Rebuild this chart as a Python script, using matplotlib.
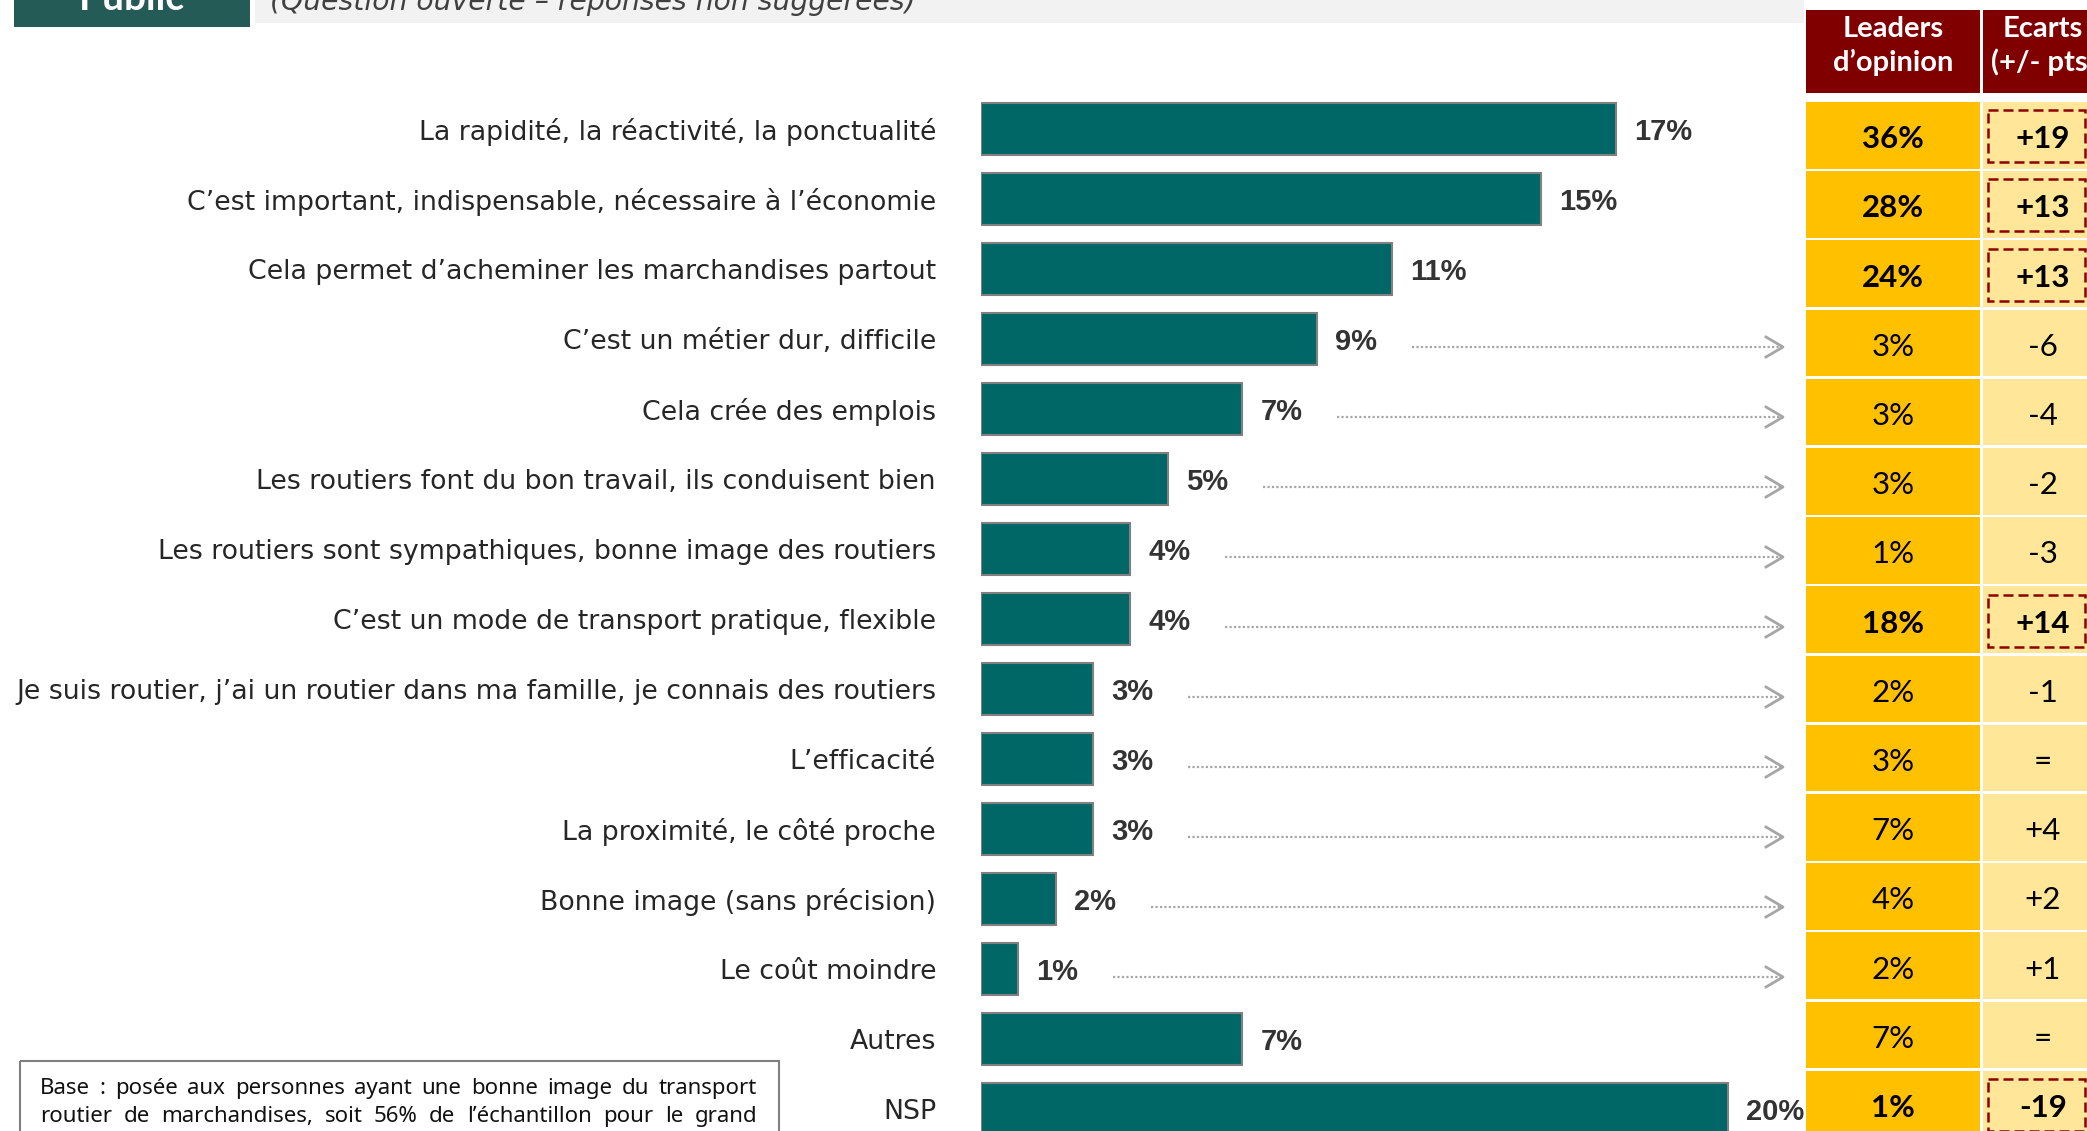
import matplotlib
matplotlib.use('Agg')
import matplotlib.pyplot as plt
from matplotlib.patches import Rectangle

plt.rcParams['font.family'] = ['DejaVu Sans']
BOLD_FONT = ['Lato', 'DejaVu Sans']
NUM_FONT = ['Liberation Sans Narrow', 'Liberation Sans', 'DejaVu Sans']

categories = [
    "La rapidité, la réactivité, la ponctualité",
    "C’est important, indispensable, nécessaire à l’économie",
    "Cela permet d’acheminer les marchandises partout",
    "C’est un métier dur, difficile",
    "Cela crée des emplois",
    "Les routiers font du bon travail, ils conduisent bien",
    "Les routiers sont sympathiques, bonne image des routiers",
    "C’est un mode de transport pratique, flexible",
    "Je suis routier, j’ai un routier dans ma famille, je connais des routiers",
    "L’efficacité",
    "La proximité, le côté proche",
    "Bonne image (sans précision)",
    "Le coût moindre",
    "Autres",
    "NSP",
]
public = [17, 15, 11, 9, 7, 5, 4, 4, 3, 3, 3, 2, 1, 7, 20]
leaders = [36, 28, 24, 3, 3, 3, 1, 18, 2, 3, 7, 4, 2, 7, 1]
ecarts = ['+19', '+13', '+13', '-6', '-4', '-2', '-3', '+14', '-1', '=',
          '+4', '+2', '+1', '=', '-19']
significant = [True, True, True, False, False, False, False, True,
               False, False, False, False, False, False, True]
with_arrow = [False, False, False, True, True, True, True, True,
              True, True, True, True, True, False, False]

base_lines = [
    "Base : posée aux personnes ayant une bonne image du transport",
    "routier de marchandises, soit 56% de l’échantillon pour le grand",
]

W, H = 2087, 1131
PX = 37.35      # pixels per percentage point
BAR_X0 = 981
ROW0, PITCH = 129, 70

fig = plt.figure(figsize=(W / 100, H / 100), dpi=100)

# background / layout axes in pixel coordinates
bg = fig.add_axes([0, 0, 1, 1])
bg.set_xlim(0, W)
bg.set_ylim(H, 0)
bg.axis('off')

# title strip
bg.add_patch(Rectangle((14, 0), 236, 27, color='#245B57', lw=0))
bg.add_patch(Rectangle((255, 0), 1549, 23, color='#F2F2F2', lw=0))
bg.text(132, 10, 'Public', color='white', fontsize=28, fontweight='bold',
        family=BOLD_FONT, ha='center', va='baseline')
bg.text(270, 10, '(Question ouverte – réponses non suggérées)', color='#404040',
        fontsize=20.3, style='italic', ha='left', va='baseline')

# bars
ax = fig.add_axes([BAR_X0 / W, 0, (1800 - BAR_X0) / W, 1])
ax.set_xlim(0, (1800 - BAR_X0) / PX)
ax.set_ylim((H - ROW0) / PITCH, -ROW0 / PITCH)
ax.axis('off')
ax.patch.set_alpha(0)

rows = range(len(categories))
ax.barh(rows, public, height=52 / PITCH, color='#006666',
        edgecolor='#808080', linewidth=1.5)

arrow_end = (1783 - BAR_X0) / PX
for i, (cat, v) in enumerate(zip(categories, public)):
    ty = i + 3 / PITCH
    ax.text(-45 / PX, ty, cat, ha='right', va='center', fontsize=19.3,
            color='#262626')
    ax.text(v + 18 / PX, ty, f'{v}%', ha='left', va='center', fontsize=21,
            fontweight='bold', family=NUM_FONT, color='#333333')
    if with_arrow[i]:
        y = i + 8 / PITCH
        ax.plot([v + 95 / PX, arrow_end - 0.05], [y, y], color='#A6A6A6',
                lw=1.6, linestyle=(0, (1, 1)))
        ax.plot([arrow_end - 17 / PX, arrow_end, arrow_end - 17 / PX],
                [y - 10 / PITCH, y, y + 10 / PITCH], color='#A6A6A6', lw=2)

# comparison table
C1, C1W = 1806, 174
C2, C2W = 1983, 200
c1x, c2x = C1 + C1W / 2, 2043
for x, w in [(C1, C1W), (C2, C2W)]:
    bg.add_patch(Rectangle((x, 10), w, 83, color='#800000', lw=0))
head = dict(color='white', fontsize=21, fontweight='bold', family=BOLD_FONT,
            ha='center', va='baseline')
bg.text(c1x, 37, 'Leaders', **head)
bg.text(c1x, 71, 'd’opinion', **head)
bg.text(c2x, 37, 'Ecarts', **head)
bg.text(c2x, 71, '(+/- pts)', **head)

T0, TP, TH = 102, 69.2, 66.5
for i in rows:
    top = T0 + i * TP
    cy = top + TH / 2 + 4
    bg.add_patch(Rectangle((C1, top), C1W, TH, color='#FFC000', lw=0))
    bg.add_patch(Rectangle((C2, top), C2W, TH, color='#FFE699', lw=0))
    wt = 'bold' if significant[i] else 'normal'
    bg.text(c1x, cy, f'{leaders[i]}%', ha='center', va='center',
            fontsize=22.5, fontweight=wt, family=BOLD_FONT, color='black')
    bg.text(c2x, cy, ecarts[i], ha='center', va='center',
            fontsize=22.5, fontweight=wt, family=BOLD_FONT, color='black')
    if significant[i]:
        bg.add_patch(Rectangle((1988, cy - 29), 97, 52, fill=False,
                               edgecolor='#8B0000', lw=1.8,
                               linestyle=(0, (4, 2))))

# base note, justified
bg.add_patch(Rectangle((20, 1061), 759, 120, fill=False,
                       edgecolor='#7F7F7F', lw=1.5))
renderer = fig.canvas.get_renderer()
for line, base_y in zip(base_lines, [1094, 1122]):
    words = line.split(' ')
    texts = [bg.text(0, base_y, w, fontsize=16, color='#111111',
                     family=['Noto Sans', 'DejaVu Sans'],
                     ha='left', va='baseline') for w in words]
    widths = [t.get_window_extent(renderer).width for t in texts]
    gap = (757 - 40 - sum(widths)) / (len(words) - 1)
    x = 40
    for t, w in zip(texts, widths):
        t.set_x(x)
        x += w + gap

fig.savefig('out.png', dpi=100)
